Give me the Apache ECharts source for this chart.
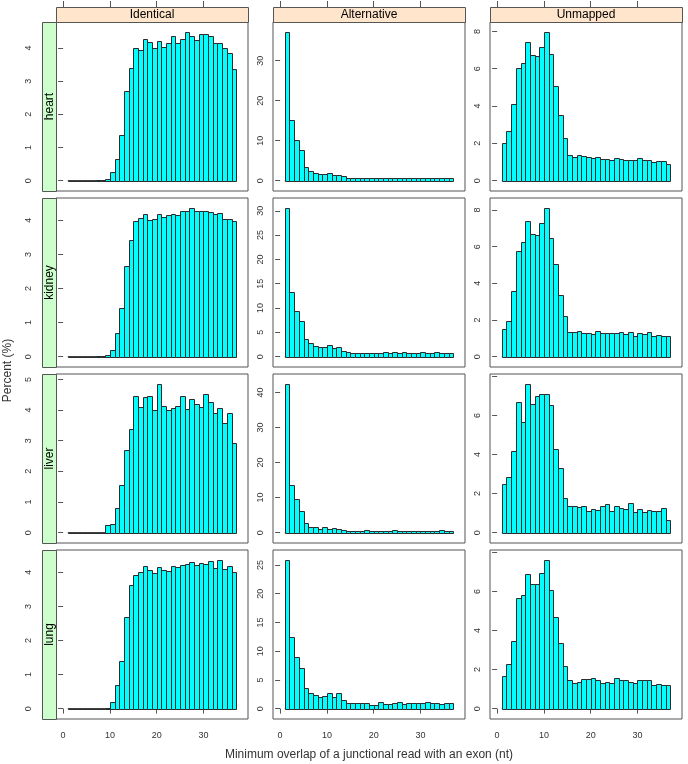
<!DOCTYPE html>
<html><head><meta charset="utf-8">
<script src="https://cdn.jsdelivr.net/npm/echarts@6/dist/echarts.min.js"></script>
<style>html,body{margin:0;padding:0;background:#fff}#c{width:688px;height:764px}</style>
</head><body><div id="c"></div>
<script>
// ---------- data ----------
const breaks = [1,2,3,4,5,6,7,8,9,10,11,12,13,14,15,16,17,18,19,20,21,22,23,24,25,26,27,28,29,30,31,32,33,34,35,36,37];
const tissues = ['heart','kidney','liver','lung'];
const classes = ['Identical','Alternative','Unmapped'];

const heartIdentical = [0,0,0,0,0,0,0.01,0.02,0.05,0.27,0.66,1.38,2.69,3.4,4.0,3.94,4.27,4.19,4.0,4.21,4.02,4.15,4.36,4.15,4.27,4.47,4.36,4.24,4.42,4.42,4.36,4.15,4.15,4.0,3.85,3.37];
const heartAlternative = [37.1,15.2,10.2,7.65,3.5,2.5,2.0,1.66,1.66,2.0,1.5,1.5,1.16,0.66,0.66,0.66,0.66,0.66,0.75,0.75,0.75,0.75,0.75,0.75,0.75,0.75,0.75,0.75,0.75,0.75,0.75,0.75,0.6,0.75,0.75,0.75];
const heartUnmapped = [2.01,2.66,4.1,6.02,6.31,7.42,6.72,6.67,7.15,7.95,6.79,5.06,3.51,2.28,1.37,1.27,1.35,1.3,1.25,1.2,1.25,1.15,1.15,1.1,1.2,1.15,1.1,1.1,1.1,1.2,1.1,1.1,1.0,1.05,1.05,0.9];

const kidneyIdentical = [0,0,0,0,0,0,0.01,0.02,0.05,0.19,0.7,1.43,2.66,3.42,3.97,4.06,4.18,4.0,4.03,4.18,4.09,4.15,4.18,4.15,4.28,4.28,4.35,4.28,4.28,4.28,4.23,4.18,4.2,4.03,4.03,3.97];
const kidneyAlternative = [30.5,13.2,9.4,7.26,3.56,2.74,2.2,1.92,1.92,2.33,1.78,2.0,1.16,0.9,0.7,0.7,0.7,0.7,0.7,0.7,0.7,0.95,0.75,0.95,0.75,0.95,0.75,0.75,0.75,0.95,0.75,0.75,0.95,0.75,0.7,0.7];
const kidneyUnmapped = [1.5,1.94,3.57,5.79,6.28,7.42,6.71,6.62,7.31,8.09,6.5,5.03,3.35,2.21,1.32,1.32,1.39,1.29,1.27,1.21,1.39,1.27,1.27,1.27,1.27,1.34,1.21,1.34,1.12,1.29,1.21,1.34,1.12,1.19,1.14,1.12];

const liverIdentical = [0,0,0,0,0,0,0,0,0.26,0.28,0.82,1.54,2.71,3.39,4.47,4.11,4.44,4.47,4.01,4.84,4.14,3.99,4.08,4.14,4.47,4.04,4.37,4.19,4.11,4.54,4.28,3.89,4.08,3.57,3.89,2.93];
const liverAlternative = [42.3,13.6,9.7,6.3,2.76,1.62,1.62,1.14,1.62,1.14,1.43,0.95,0.67,0.48,0.48,0.48,0.48,0.76,0.48,0.48,0.48,0.48,0.48,0.76,0.48,0.48,0.48,0.48,0.48,0.48,0.48,0.48,0.48,0.76,0.48,0.5];
const liverUnmapped = [2.51,2.87,4.2,6.67,5.64,7.59,6.56,6.97,7.08,7.08,6.51,4.26,3.33,1.79,1.38,1.38,1.33,1.38,1.13,1.23,1.18,1.38,1.49,1.13,1.38,1.28,1.23,1.54,1.08,1.23,1.08,1.18,1.13,1.13,1.28,0.65];

const lungIdentical = [0,0,0,0,0,0,0,0,0.03,0.2,0.68,1.41,2.7,3.62,3.91,4.0,4.18,4.06,3.97,4.15,4.06,4.03,4.18,4.15,4.21,4.24,4.29,4.21,4.26,4.24,4.32,4.12,4.35,4.09,4.18,4.0];
const lungAlternative = [25.8,12.4,9.07,7.15,3.66,2.79,2.44,2.09,2.27,2.79,2.09,2.79,1.57,1.05,1.05,1.05,1.05,1.05,0.7,0.7,1.22,0.87,0.87,1.05,1.22,0.87,1.05,1.05,1.05,1.05,1.22,1.05,1.05,0.87,1.05,1.05];
const lungUnmapped = [1.69,2.26,3.44,5.65,5.8,6.87,6.4,6.36,6.92,7.59,6.05,4.67,3.38,2.2,1.44,1.33,1.38,1.54,1.54,1.59,1.44,1.33,1.38,1.33,1.59,1.44,1.44,1.38,1.33,1.44,1.44,1.44,1.23,1.28,1.23,1.23];

const xTicks = [0,10,20,30];
const yTicksHeart  = [[0,1,2,3,4],[0,10,20,30],[0,2,4,6,8]];
const yTicksKidney = [[0,1,2,3,4],[0,5,10,15,20,25,30],[0,2,4,6,8]];
const yTicksLiver  = [[0,1,2,3,4,5],[0,10,20,30,40],[0,2,4,6,8]];
const yTicksLung   = [[0,1,2,3,4],[0,5,10,15,20,25],[0,2,4,6,8]];
const xTitle = 'Minimum overlap of a junctional read with an exon (nt)';
const yTitle = 'Percent (%)';

const panelValues = [
  [heartIdentical, heartAlternative, heartUnmapped],
  [kidneyIdentical, kidneyAlternative, kidneyUnmapped],
  [liverIdentical, liverAlternative, liverUnmapped],
  [lungIdentical, lungAlternative, lungUnmapped]
];
const panelTicks = [yTicksHeart, yTicksKidney, yTicksLiver, yTicksLung];

// ---------- layout ----------
const colLeft = [56, 273, 490], W = 192;
const rowTop = [22, 198, 374, 550], H = 169;
const stripH = 15, stripLW = 14;
const FONT = '"Liberation Sans", Arial, sans-serif';
const PAD = 0.07;
const xLo = breaks[0], xHi = breaks[breaks.length-1];
const xMin = xLo - PAD*(xHi-xLo), xMax = xHi + PAD*(xHi-xLo);

const grids = [], xAxes = [], yAxes = [], series = [], graphics = [];

function renderBar(params, api){
  const lo = api.value(0), hi = api.value(1), v = api.value(2);
  const p1 = api.coord([lo, v]), p2 = api.coord([hi, 0]);
  const x0 = Math.round(p1[0]) + 0.5, x1 = Math.round(p2[0]) + 0.5;
  const y0 = Math.round(p1[1]) + 0.5, y1 = Math.round(p2[1]) + 0.5;
  return {type:'rect', shape:{x:x0, y:y0, width:x1-x0, height:y1-y0},
    style:{fill:'#00ffff', stroke:'#2b2b2b', lineWidth:1}};
}

let gi = 0;
for (let r = 0; r < 4; r++) {
  for (let c = 0; c < 3; c++) {
    const vals = panelValues[r][c];
    const vmax = Math.max.apply(null, vals);
    const yMin = -PAD*vmax, yMax = (1+PAD)*vmax;
    grids.push({left: colLeft[c], top: rowTop[r], width: W, height: H,
      show: true, borderColor: '#555', borderWidth: 1, backgroundColor: 'transparent'});
    const isBottom = r === 3;
    xAxes.push({type:'value', gridIndex: gi, min: xMin, max: xMax, position:'bottom', offset: 2,
      axisLine:{show:false}, splitLine:{show:false},
      axisTick:{show:isBottom, length:5, lineStyle:{color:'#555'}, customValues: xTicks},
      axisLabel:{show:isBottom, customValues: xTicks, margin: 10, fontSize: 9, color:'#333', fontFamily: FONT}});
    const ticks = panelTicks[r][c];
    const span = yMax - yMin;
    yAxes.push({type:'value', gridIndex: gi, min: yMin, max: yMax, position:'left',
      offset: c === 0 ? stripLW + 1 : 0,
      axisLine:{show:false}, splitLine:{show:false},
      axisTick:{show:true, length:5, lineStyle:{color:'#555'}, customValues: ticks},
      axisLabel:{show:true, customValues: ticks, rotate: 90, margin: 8, fontSize: 9, color:'#333', fontFamily: FONT,
        formatter: function(v){ return ((yMax - v)/span*H < 4) ? '' : String(v); }}});
    const data = vals.map(function(v, i){ return [breaks[i], breaks[i+1], v]; });
    series.push({type:'custom', xAxisIndex: gi, yAxisIndex: gi, renderItem: renderBar,
      dimensions:['lo','hi','v'], encode:{x:['lo','hi'], y:'v'}, data: data, silent: true, clip: false});
    // baseline across whole bin range
    series.push({type:'line', xAxisIndex: gi, yAxisIndex: gi, silent: true, symbol:'none',
      lineStyle:{color:'#2b2b2b', width:1}, data:[[xLo,0],[xHi,0]], z: 1});
    gi++;
  }
}
// top axis ticks on first row
for (let c = 0; c < 3; c++) {
  xAxes.push({type:'value', gridIndex: c, min: xMin, max: xMax, position:'top', offset: stripH,
    axisLine:{show:false}, splitLine:{show:false},
    axisTick:{show:true, length:6, lineStyle:{color:'#555'}, customValues: xTicks},
    axisLabel:{show:false}});
}
// strips
for (let c = 0; c < 3; c++) {
  graphics.push({type:'rect', shape:{x: colLeft[c]+0.5, y: rowTop[0]-stripH+0.5, width: W, height: stripH},
    style:{fill:'#ffe5cc', stroke:'#555', lineWidth:1}, z: 10});
  graphics.push({type:'text', x: colLeft[c] + W/2, y: rowTop[0] - stripH/2 + 0.5,
    style:{text: classes[c], font: '12px ' + FONT, fill:'#000', textAlign:'center', textVerticalAlign:'middle'}, z: 11});
}
for (let r = 0; r < 4; r++) {
  graphics.push({type:'rect', shape:{x: colLeft[0]-stripLW+0.5, y: rowTop[r]+0.5, width: stripLW, height: H},
    style:{fill:'#ccffcc', stroke:'#555', lineWidth:1}, z: 10});
  graphics.push({type:'text', x: colLeft[0]-stripLW/2 + 0.5, y: rowTop[r] + H/2, rotation: Math.PI/2,
    style:{text: tissues[r], font: '12px ' + FONT, fill:'#000', textAlign:'center', textVerticalAlign:'middle'}, z: 11});
}
graphics.push({type:'text', x: 8, y: (rowTop[0] + rowTop[3] + H)/2, rotation: Math.PI/2,
  style:{text: yTitle, font: '12px ' + FONT, fill:'#333', textAlign:'center', textVerticalAlign:'middle'}});
graphics.push({type:'text', x: (colLeft[0] + colLeft[2] + W)/2, y: 755,
  style:{text: xTitle, font: '12px ' + FONT, fill:'#333', textAlign:'center', textVerticalAlign:'middle'}});

const chart = echarts.init(document.getElementById('c'), null, {renderer:'canvas'});
chart.setOption({animation:false, backgroundColor:'#fff', grid: grids, xAxis: xAxes, yAxis: yAxes, series: series, graphic: graphics});
</script></body></html>
